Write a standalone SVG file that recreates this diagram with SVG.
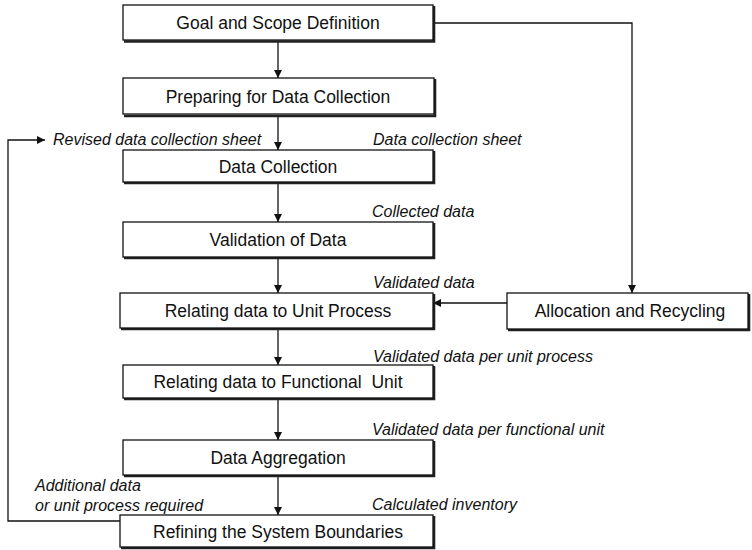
<svg xmlns="http://www.w3.org/2000/svg" width="752" height="550" viewBox="0 0 752 550">
  <style>
    .box { fill: #fff; stroke: #111; stroke-width: 1.3; }
    .shade { fill: none; stroke: #222; stroke-width: 2.6; }
    .title { font-family: "Liberation Sans", Arial, sans-serif; font-size: 17.5px; fill: #111; text-anchor: middle; }
    .lbl { font-family: "Liberation Sans", Arial, sans-serif; font-size: 16px; font-style: italic; fill: #111; }
    .wire { fill: none; stroke: #111; stroke-width: 1.3; }
  </style>
  <defs>
    <marker id="head" viewBox="0 0 10 10" refX="10" refY="5" markerWidth="8" markerHeight="8" markerUnits="userSpaceOnUse" orient="auto">
      <path d="M0,0 L10,5 L0,10 z" fill="#111"/>
    </marker>
  </defs>

  <!-- connectors -->
  <g id="connectors">
    <path class="wire" d="M278,41 V78" marker-end="url(#head)"/>
    <path class="wire" d="M278,115 V150" marker-end="url(#head)"/>
    <path class="wire" d="M278,182 V222" marker-end="url(#head)"/>
    <path class="wire" d="M278,257 V293" marker-end="url(#head)"/>
    <path class="wire" d="M278,328 V365" marker-end="url(#head)"/>
    <path class="wire" d="M278,398 V440" marker-end="url(#head)"/>
    <path class="wire" d="M278,475 V515" marker-end="url(#head)"/>
    <path class="wire" d="M433,23 H632 V293" marker-end="url(#head)"/>
    <path class="wire" d="M507,303 H433" marker-end="url(#head)"/>
    <path class="wire" d="M120,521 H8 V140 H45" marker-end="url(#head)"/>
  </g>

  <!-- flow labels -->
  <g id="labels">
    <text class="lbl" x="53" y="145">Revised data collection sheet</text>
    <text class="lbl" x="373" y="145">Data collection sheet</text>
    <text class="lbl" x="372" y="217">Collected data</text>
    <text class="lbl" x="373" y="288">Validated data</text>
    <text class="lbl" x="373" y="362">Validated data per unit process</text>
    <text class="lbl" x="372" y="435">Validated data per functional unit</text>
    <text class="lbl" x="35" y="491">Additional data</text>
    <text class="lbl" x="35" y="511">or unit process required</text>
    <text class="lbl" x="372" y="510">Calculated inventory</text>
  </g>

  <g id="goal">
    <path class="shade" d="M434,6 V41.5 H124"/>
    <rect class="box" x="123" y="5" width="310" height="35"/>
    <text class="title" x="278" y="29">Goal and Scope Definition</text>
  </g>
  <g id="preparing">
    <path class="shade" d="M435,79 V116 H124"/>
    <rect class="box" x="123" y="78" width="311" height="36"/>
    <text class="title" x="278" y="103">Preparing for Data Collection</text>
  </g>
  <g id="collection">
    <path class="shade" d="M434,151 V183 H124"/>
    <rect class="box" x="123" y="150" width="310" height="32"/>
    <text class="title" x="278" y="173">Data Collection</text>
  </g>
  <g id="validation">
    <path class="shade" d="M434,223 V258 H124"/>
    <rect class="box" x="123" y="222" width="310" height="35"/>
    <text class="title" x="278" y="246">Validation of Data</text>
  </g>
  <g id="unit-process">
    <path class="shade" d="M434,294 V329 H121"/>
    <rect class="box" x="120" y="293" width="313" height="35"/>
    <text class="title" x="278" y="317">Relating data to Unit Process</text>
  </g>
  <g id="allocation">
    <path class="shade" d="M749,294 V330 H508"/>
    <rect class="box" x="507" y="293" width="241" height="36"/>
    <text class="title" x="630" y="317">Allocation and Recycling</text>
  </g>
  <g id="functional-unit">
    <path class="shade" d="M434,366 V399 H124"/>
    <rect class="box" x="123" y="365" width="310" height="33"/>
    <text class="title" x="278" y="388" xml:space="preserve">Relating data to Functional  Unit</text>
  </g>
  <g id="aggregation">
    <path class="shade" d="M434,441 V476 H124"/>
    <rect class="box" x="123" y="440" width="310" height="35"/>
    <text class="title" x="278" y="464">Data Aggregation</text>
  </g>
  <g id="boundaries">
    <path class="shade" d="M434,516 V548 H121"/>
    <rect class="box" x="120" y="515" width="313" height="32"/>
    <text class="title" x="278" y="538">Refining the System Boundaries</text>
  </g>
</svg>
